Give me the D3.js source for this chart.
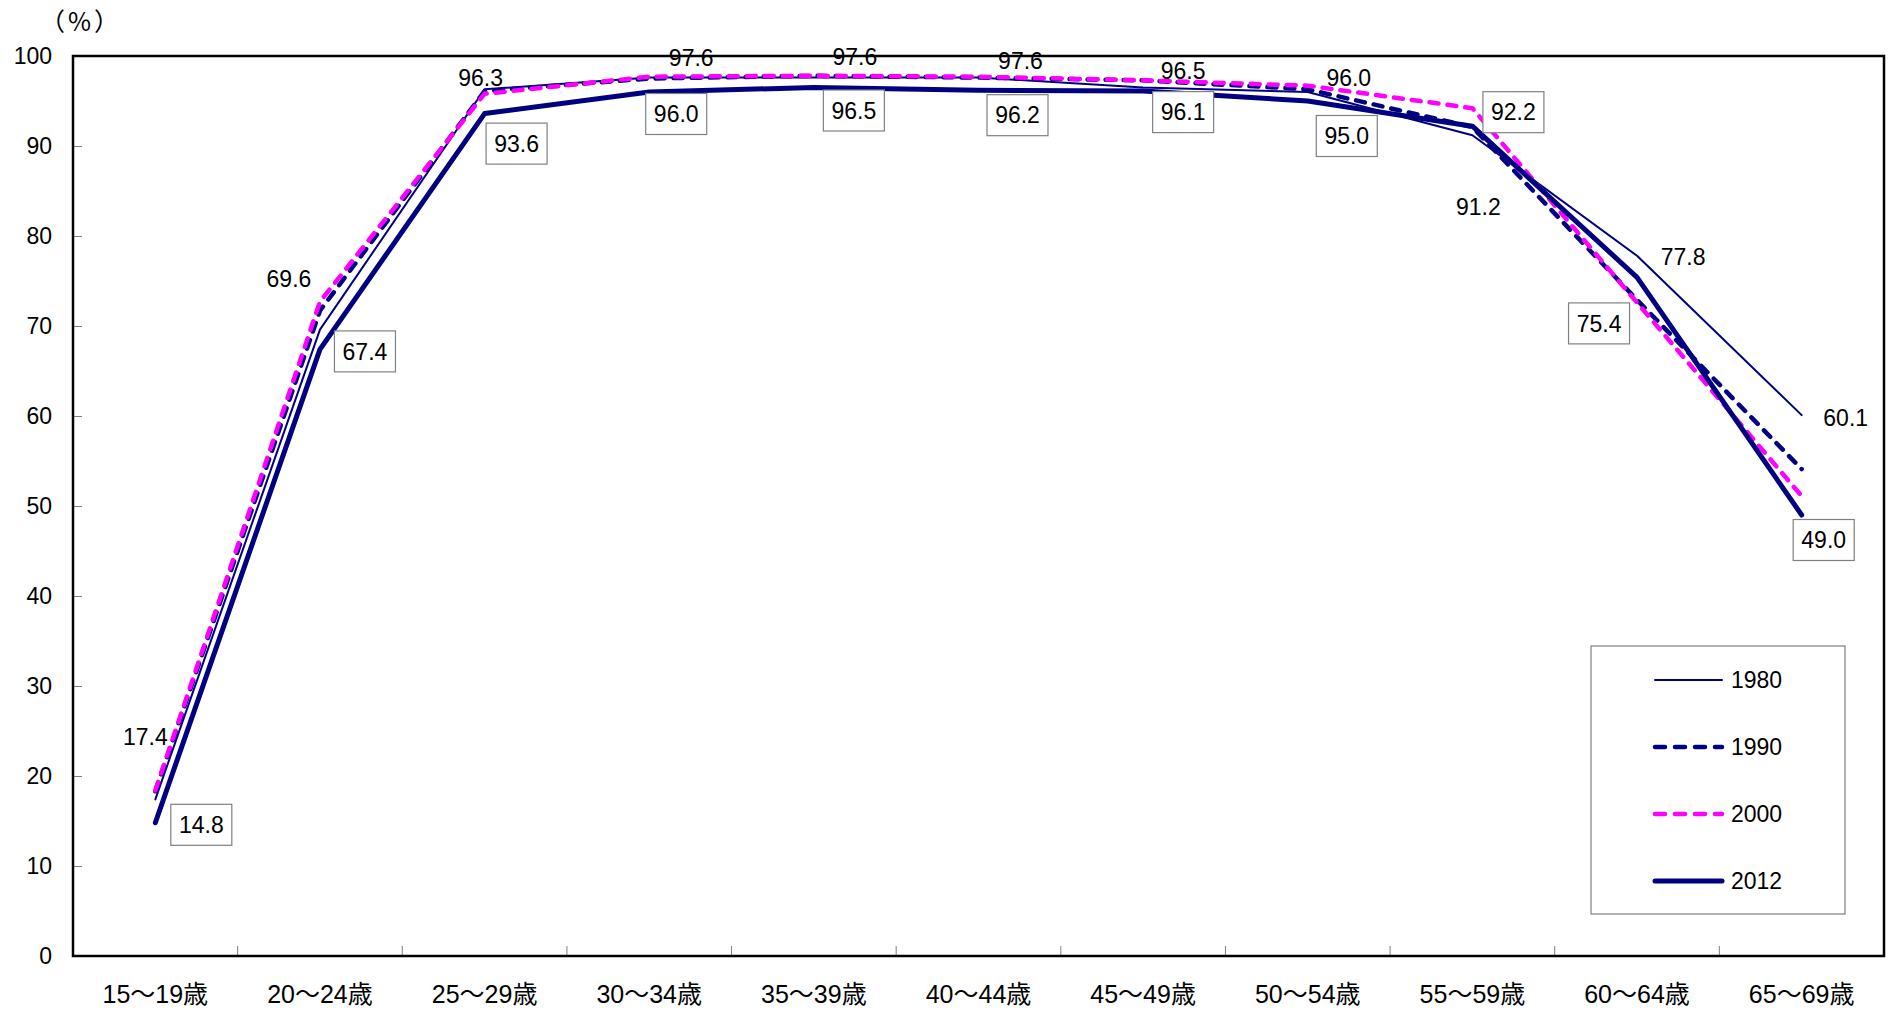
<!DOCTYPE html>
<html lang="ja">
<head>
<meta charset="utf-8">
<title>年齢階級別労働力率（男性）</title>
<script src="https://cdn.jsdelivr.net/npm/d3@7"></script>
<style>
  html, body { margin: 0; padding: 0; background: #fff; }
  svg { display: block; }
  text { font-family: "Liberation Sans", Arial, "Noto Sans CJK JP", sans-serif; fill: #000; }
</style>
</head>
<body>
<svg id="chart" width="1893" height="1010"></svg>
<script>
// Age groups on the x axis
const ageGroups = ["15～19歳", "20～24歳", "25～29歳", "30～34歳", "35～39歳", "40～44歳",
                   "45～49歳", "50～54歳", "55～59歳", "60～64歳", "65～69歳"];

// Labour force participation rate (%) by survey year
const rate1980 = [17.4, 69.6, 96.3, 97.6, 97.6, 97.6, 96.5, 96.0, 91.2, 77.8, 60.1];
const rate1990 = [18.3, 71.7, 96.1, 97.5, 97.8, 97.6, 97.3, 96.3, 92.1, 72.9, 54.1];
const rate2000 = [18.4, 72.7, 95.8, 97.7, 97.8, 97.7, 97.3, 96.7, 94.2, 72.6, 51.1];
const rate2012 = [14.8, 67.4, 93.6, 96.0, 96.5, 96.2, 96.1, 95.0, 92.2, 75.4, 49.0];

const yTicks = [0, 10, 20, 30, 40, 50, 60, 70, 80, 90, 100];

// Series appearance (drawn in this order, later ones on top)
const series = [
  { name: "1980", values: rate1980, color: "#000080", width: 2,   dash: null },
  { name: "1990", values: rate1990, color: "#000080", width: 4.5, dash: "9,9" },
  { name: "2000", values: rate2000, color: "#FF00FF", width: 4.5, dash: "9,9" },
  { name: "2012", values: rate2012, color: "#000080", width: 5,   dash: null }
];

// Label placement relative to each point (pixels): plain labels for 1980, boxed for 2012
const plainOffsets = [[-10,-63],[-31,-51],[-4,-12],[42,-20],[41,-21],[42,-17],[40,-17],[41,-14],[6,72],[46,1],[44,3]];
const boxedOffsets = [[46,2],[45,2],[32,30],[27,22],[40,23],[39,25],[40,21],[39,35],[41,-14],[-38,46],[22,25]];

const svg = d3.select("#chart");
const plot = { left: 73, right: 1884, top: 56, bottom: 956 };

const x = d3.scaleBand().domain(ageGroups).range([plot.left, plot.right]).paddingInner(0).paddingOuter(0);
const y = d3.scaleLinear().domain([0, 100]).range([plot.bottom, plot.top]);
const cx = d => x(d) + x.bandwidth() / 2;

// Y axis: labels on the left, short ticks pointing inward
const yAxis = d3.axisRight(y).tickValues(yTicks).tickSize(9).tickFormat("");
svg.append("g").attr("transform", `translate(${plot.left},0)`).call(yAxis)
  .call(g => g.select(".domain").remove())
  .call(g => g.selectAll("line").attr("stroke", "#808080").attr("stroke-width", 1));
svg.append("g").selectAll("text").data(yTicks).join("text")
  .attr("x", 52).attr("y", d => y(d)).attr("dy", "0.36em")
  .attr("text-anchor", "end").attr("font-size", 23).text(d => d);

// X axis: ticks at category boundaries pointing up into the plot
const boundaries = ageGroups.slice(1).map(d => x(d));
svg.append("g").selectAll("line").data(boundaries).join("line")
  .attr("x1", d => d).attr("x2", d => d)
  .attr("y1", plot.bottom).attr("y2", plot.bottom - 10)
  .attr("stroke", "#808080").attr("stroke-width", 1);
svg.append("g").selectAll("text").data(ageGroups).join("text")
  .attr("x", d => cx(d)).attr("y", 1003)
  .attr("text-anchor", "middle").attr("font-size", 25).text(d => d);

// Unit label (full-width parentheses)
svg.append("text").attr("x", 40).attr("y", 31).attr("text-anchor", "start")
  .style("font-family", "'Noto Sans CJK JP', sans-serif")
  .style("letter-spacing", "3px")
  .attr("font-size", 25).text("（%）");

// Series lines
const line = d3.line().x((d, i) => cx(ageGroups[i])).y(d => y(d));
series.forEach(s => {
  svg.append("path").datum(s.values)
    .attr("d", line)
    .attr("fill", "none")
    .attr("stroke", s.color)
    .attr("stroke-width", s.width)
    .attr("stroke-dasharray", s.dash)
    .attr("stroke-linecap", "round")
    .attr("stroke-linejoin", "round");
});

// Plot frame
svg.append("rect")
  .attr("x", plot.left).attr("y", plot.top)
  .attr("width", plot.right - plot.left).attr("height", plot.bottom - plot.top)
  .attr("fill", "none").attr("stroke", "#000").attr("stroke-width", 2.5);

// Value labels for 1980 (plain)
svg.append("g").selectAll("text").data(rate1980).join("text")
  .attr("x", (d, i) => cx(ageGroups[i]) + plainOffsets[i][0])
  .attr("y", (d, i) => y(d) + plainOffsets[i][1])
  .attr("dy", "0.36em").attr("text-anchor", "middle").attr("font-size", 23)
  .text(d => d.toFixed(1));

// Value labels for 2012 (boxed)
const boxed = svg.append("g").selectAll("g").data(rate2012).join("g")
  .attr("transform", (d, i) => `translate(${cx(ageGroups[i]) + boxedOffsets[i][0]},${y(d) + boxedOffsets[i][1]})`);
boxed.append("rect")
  .attr("x", -30.5).attr("y", -20.5).attr("width", 61).attr("height", 41)
  .attr("fill", "#fff").attr("stroke", "#808080").attr("stroke-width", 1.2);
boxed.append("text")
  .attr("dy", "0.36em").attr("text-anchor", "middle").attr("font-size", 23)
  .text(d => d.toFixed(1));

// Legend
const legend = svg.append("g");
legend.append("rect")
  .attr("x", 1591).attr("y", 646).attr("width", 254).attr("height", 268)
  .attr("fill", "#fff").attr("stroke", "#808080").attr("stroke-width", 1.2);
const rowY = d3.scalePoint().domain(series.map(s => s.name)).range([680, 881]);
const rows = legend.selectAll("g").data(series).join("g")
  .attr("transform", s => `translate(0,${rowY(s.name)})`);
rows.append("line")
  .attr("x1", 1655).attr("x2", 1722).attr("y1", 0).attr("y2", 0)
  .attr("stroke", s => s.color).attr("stroke-width", s => s.width)
  .attr("stroke-dasharray", s => s.dash ? "10,10" : null)
  .attr("stroke-linecap", "round");
rows.append("text")
  .attr("x", 1731).attr("dy", "0.36em").attr("font-size", 23)
  .text(s => s.name);
</script>
</body>
</html>
